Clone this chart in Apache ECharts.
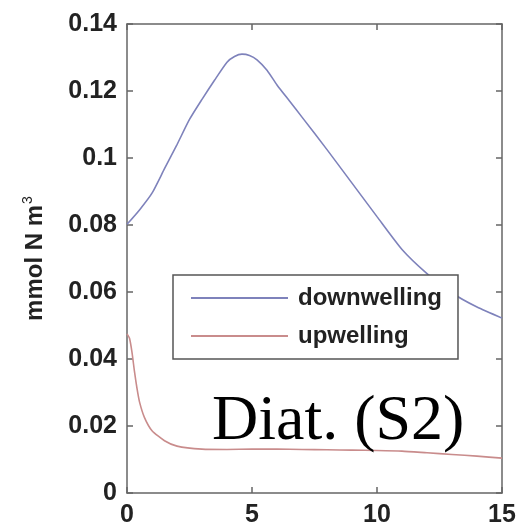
<!DOCTYPE html>
<html>
<head>
<meta charset="utf-8">
<script src="https://cdn.jsdelivr.net/npm/echarts@6/dist/echarts.min.js"></script>
<style>html,body{margin:0;padding:0;background:#fff}#c{width:521px;height:531px}</style>
</head>
<body>
<div id="c"></div>
<script>
// x positions (days) and values (mmol N m^-3)
const downX = [0, 0.5, 1, 1.5, 2, 2.5, 3, 3.5, 4, 4.3, 4.6, 4.9, 5.2, 5.6, 6, 6.5, 7, 8, 9, 10, 11, 12, 13, 14, 15];
const downY = [0.0802, 0.0845, 0.0895, 0.0968, 0.104, 0.1115, 0.1175, 0.1232, 0.1286, 0.1303, 0.1310, 0.1306, 0.1293, 0.1262, 0.1218, 0.1170, 0.1122, 0.1025, 0.0925, 0.0825, 0.0727, 0.0655, 0.0597, 0.0555, 0.0522];
const upX = [0, 0.1, 0.2, 0.3, 0.4, 0.5, 0.7, 1.0, 1.5, 2, 3, 4, 5, 6, 7, 8, 9, 10, 11, 12, 13, 14, 15];
const upY = [0.0475, 0.0462, 0.0420, 0.0362, 0.0312, 0.0272, 0.0225, 0.0186, 0.0156, 0.0140, 0.0131, 0.0130, 0.0131, 0.0131, 0.0130, 0.0129, 0.0128, 0.0127, 0.0125, 0.0120, 0.0115, 0.0110, 0.0104];
const seriesNames = ['downwelling', 'upwelling'];
const yTicks = ['0', '0.02', '0.04', '0.06', '0.08', '0.1', '0.12', '0.14'];
const xTicks = ['0', '5', '10', '15'];

const pair = (xs, ys) => xs.map((x, i) => [x, ys[i]]);
const axisColor = '#666';
const labelStyle = { color: '#222', fontFamily: '"Liberation Sans", Arial, sans-serif', fontWeight: 'bold', fontSize: 25 };
const lineCfg = { show: true, onZero: false, lineStyle: { color: axisColor, width: 1.5 } };
const tickCfg = { show: true, inside: true, length: 6, lineStyle: { color: axisColor, width: 1.5 } };

const chart = echarts.init(document.getElementById('c'), null, { renderer: 'canvas' });
chart.setOption({
  animation: false,
  backgroundColor: '#fff',
  grid: { left: 127, right: 19, top: 24, bottom: 38, containLabel: false },
  xAxis: [
    { type: 'value', min: 0, max: 15, interval: 5, position: 'bottom',
      axisLine: lineCfg, axisTick: tickCfg, splitLine: { show: false },
      axisLabel: Object.assign({ margin: 10, formatter: v => xTicks[Math.round(v / 5)] }, labelStyle) },
    { type: 'value', min: 0, max: 15, interval: 5, position: 'top',
      axisLine: lineCfg, axisTick: tickCfg, splitLine: { show: false }, axisLabel: { show: false } }
  ],
  yAxis: [
    { type: 'value', min: 0, max: 0.14, interval: 0.02, position: 'left',
      axisLine: lineCfg, axisTick: tickCfg, splitLine: { show: false },
      axisLabel: Object.assign({ margin: 10, formatter: v => yTicks[Math.round(v / 0.02)] }, labelStyle),
      name: '{a|mmol N m}{s|3}', nameLocation: 'middle', nameGap: 78,
      nameTextStyle: { rich: {
        a: { fontFamily: '"Liberation Sans", Arial, sans-serif', fontWeight: 'bold', fontSize: 24, color: '#222' },
        s: { fontFamily: '"Liberation Sans", Arial, sans-serif', fontSize: 14, color: '#222', verticalAlign: 'top', padding: [0, 0, 14, 1] }
      } } },
    { type: 'value', min: 0, max: 0.14, interval: 0.02, position: 'right',
      axisLine: lineCfg, axisTick: tickCfg, splitLine: { show: false }, axisLabel: { show: false } }
  ],
  legend: {
    orient: 'vertical', left: 173, top: 275,
    padding: [11, 16, 11, 17], itemGap: 14, itemWidth: 97, itemHeight: 14,
    borderColor: '#555', borderWidth: 1.5, backgroundColor: '#fff',
    itemStyle: { opacity: 0 },
    textStyle: { color: '#222', fontFamily: '"Liberation Sans", Arial, sans-serif', fontWeight: 'bold', fontSize: 24, padding: [0, 0, 0, 5] },
    data: seriesNames
  },
  series: [
    { name: seriesNames[0], type: 'line', data: pair(downX, downY), smooth: 0.2, symbol: 'none', z: 2,
      color: '#7e82bb', lineStyle: { color: '#7e82bb', width: 1.6 } },
    { name: seriesNames[1], type: 'line', data: pair(upX, upY), smooth: 0.2, symbol: 'none', z: 2,
      color: '#c98c8c', lineStyle: { color: '#c98c8c', width: 1.6 } }
  ],
  graphic: [
    { type: 'text', left: 212, top: 390, z: 100,
      style: { text: 'Diat. (S2)', font: '64px "Liberation Serif", "Times New Roman", serif', fill: '#000' } }
  ]
});
</script>
</body>
</html>
